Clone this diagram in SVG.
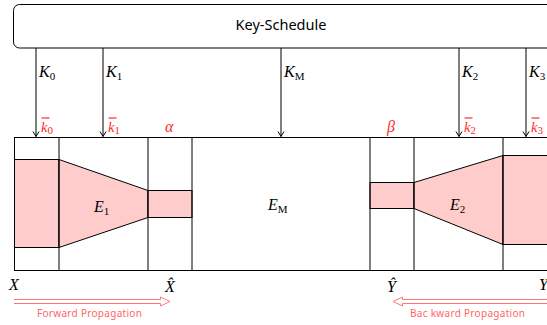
<svg xmlns="http://www.w3.org/2000/svg" width="547" height="325" viewBox="0 0 547 325">
<defs>
<style>
.ln{stroke:#000;stroke-width:1;fill:none}
.pk{fill:#ffcccc;stroke:#000;stroke-width:1}
.m{font-family:"Liberation Serif",serif;font-style:italic;font-size:16px;fill:#000}
.sub{font-size:11px;font-style:normal}
.r{fill:#ff2a2a}
.kb{font-size:14.5px}
.bar{stroke:#ff2a2a;stroke-width:1.2}
.sans{font-family:"Noto Sans","DejaVu Sans",sans-serif}
.prop{font-family:"Noto Sans","DejaVu Sans",sans-serif;font-size:10px;fill:#ff6666;letter-spacing:0.3px}
.arr{fill:none;stroke:#ff7777;stroke-width:1}
</style>
<marker id="ah" markerWidth="8" markerHeight="8" refX="6" refY="4" orient="auto" markerUnits="userSpaceOnUse">
<path d="M1,1 L6,4 L1,7" fill="none" stroke="#000" stroke-width="1"/>
</marker>
</defs>
<g id="keyschedule">
<rect x="13.5" y="4.5" width="545" height="43.5" rx="6" ry="6" class="ln"/>
<text x="281" y="30" text-anchor="middle" class="sans" font-size="14.5">Key-Schedule</text>
</g>
<g id="connectors">
<line x1="36" y1="48" x2="36" y2="136.5" class="ln" marker-end="url(#ah)"/>
<line x1="103" y1="48" x2="103" y2="136.5" class="ln" marker-end="url(#ah)"/>
<line x1="281" y1="48" x2="281" y2="136.5" class="ln" marker-end="url(#ah)"/>
<line x1="459" y1="48" x2="459" y2="136.5" class="ln" marker-end="url(#ah)"/>
<line x1="526" y1="48" x2="526" y2="136.5" class="ln" marker-end="url(#ah)"/>
</g>
<g id="key-labels">
<text x="39" y="77" class="m">K<tspan class="sub" dy="3">0</tspan></text>
<text x="106" y="77" class="m">K<tspan class="sub" dy="3">1</tspan></text>
<text x="284" y="77" class="m">K<tspan class="sub" dy="3" font-style="italic">M</tspan></text>
<text x="462" y="77" class="m">K<tspan class="sub" dy="3">2</tspan></text>
<text x="529" y="77" class="m">K<tspan class="sub" dy="3">3</tspan></text>
</g>
<g id="cipher">
<line x1="14" y1="137.5" x2="547" y2="137.5" class="ln"/>
<line x1="14" y1="270.5" x2="547" y2="270.5" class="ln"/>
<line x1="14.5" y1="137.5" x2="14.5" y2="270.5" class="ln"/>
</g>
<g id="block-X">
<rect x="14.5" y="159.5" width="44.5" height="88" class="pk"/>
</g>
<g id="E1">
<polygon points="59,159.5 148,190.5 148,217.5 59,247.5" class="pk"/>
<text x="94" y="212" class="m">E<tspan class="sub" dy="3">1</tspan></text>
</g>
<g id="block-alpha">
<rect x="148" y="190.5" width="44" height="27" class="pk"/>
</g>
<g id="EM">
<text x="268" y="210" class="m">E<tspan class="sub" dy="3" font-style="italic">M</tspan></text>
</g>
<g id="block-beta">
<rect x="370" y="182.5" width="44" height="26" class="pk"/>
</g>
<g id="E2">
<polygon points="414,182.5 503,155.5 503,244.5 414,208.5" class="pk"/>
<text x="450" y="210" class="m">E<tspan class="sub" dy="3">2</tspan></text>
</g>
<g id="block-Y">
<rect x="503" y="155.5" width="50" height="89" class="pk"/>
</g>
<g id="dividers">
<line x1="59" y1="137.5" x2="59" y2="270.5" class="ln"/>
<line x1="148" y1="137.5" x2="148" y2="270.5" class="ln"/>
<line x1="192" y1="137.5" x2="192" y2="270.5" class="ln"/>
<line x1="370" y1="137.5" x2="370" y2="270.5" class="ln"/>
<line x1="414" y1="137.5" x2="414" y2="270.5" class="ln"/>
<line x1="503" y1="137.5" x2="503" y2="270.5" class="ln"/>
</g>
<g id="red-labels">
<text x="41" y="132" class="m r kb">k<tspan class="sub" dy="2">0</tspan></text>
<line x1="41.5" y1="118" x2="49.5" y2="118" class="bar"/>
<text x="108" y="132" class="m r kb">k<tspan class="sub" dy="2">1</tspan></text>
<line x1="108.5" y1="118" x2="116.5" y2="118" class="bar"/>
<text x="165" y="132" class="m r" font-size="15">α</text>
<text x="387" y="132" class="m r" font-size="15">β</text>
<text x="464" y="132" class="m r kb">k<tspan class="sub" dy="2">2</tspan></text>
<line x1="464.5" y1="118" x2="472.5" y2="118" class="bar"/>
<text x="531" y="132" class="m r kb">k<tspan class="sub" dy="2">3</tspan></text>
<line x1="531.5" y1="118" x2="539.5" y2="118" class="bar"/>
</g>
<g id="io-labels">
<text x="9" y="290" class="m">X</text>
<text x="165" y="292" class="m">X̂</text>
<text x="387" y="292" class="m">Ŷ</text>
<text x="539" y="290" class="m">Y</text>
</g>
<g id="propagation">
<path d="M14,299.5 H160.5 V297 L170,301.5 L160.5,306 V303.5 H14" class="arr"/>
<text x="37" y="317" class="prop">Forward  Propagation</text>
<path d="M547,299.5 H402.5 V297 L393,301.5 L402.5,306 V303.5 H547" class="arr"/>
<text x="410" y="317" class="prop">Bac kward  Propagation</text>
</g>
</svg>
